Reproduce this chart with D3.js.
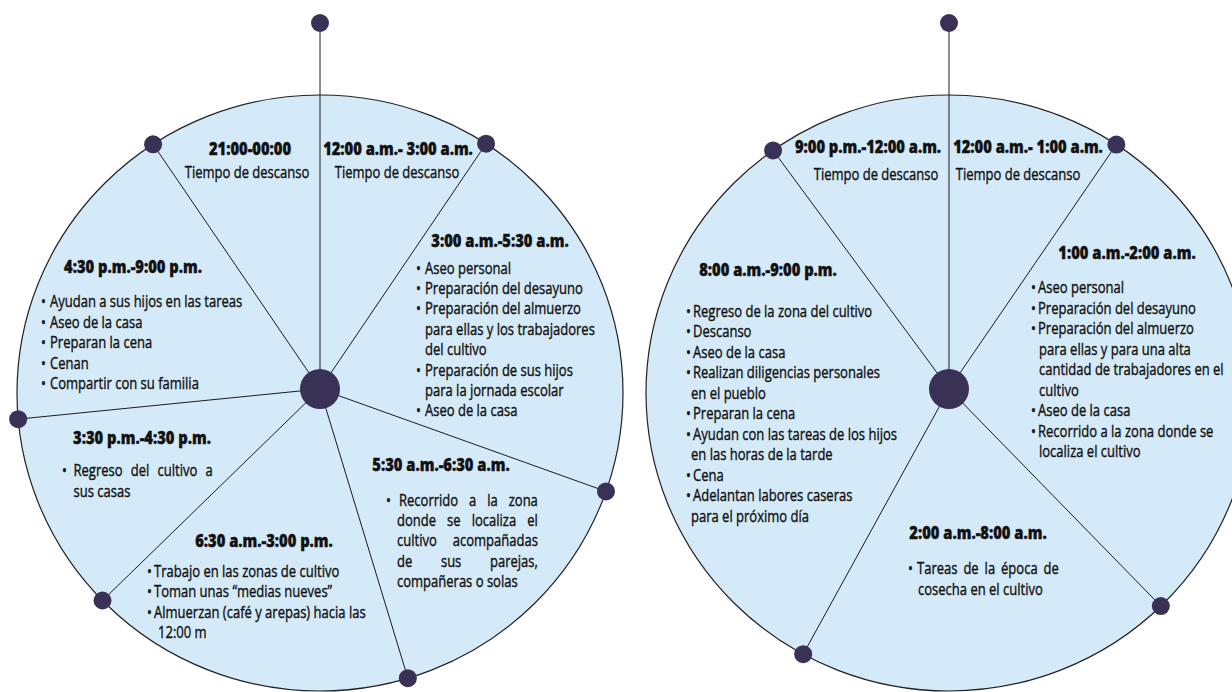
<!DOCTYPE html>
<html><head><meta charset="utf-8">
<script src="https://cdn.jsdelivr.net/npm/d3@7"></script>
<style>body{margin:0;background:#fff}svg{display:block}</style>
</head><body>
<script>
// ---------- data ----------
// segment boundaries of each day-cycle (degrees, clockwise from top)
const leftBoundaries = [0, 34.1, 109.7, 163.1, 225.8, 264.3, 325.7];
const rightBoundaries = [0, 34.4, 135.7, 208.8, 323.6];

const leftTitles = ["21:00-00:00", "12:00 a.m.- 3:00 a.m.", "3:00 a.m.-5:30 a.m.", "5:30 a.m.-6:30 a.m.",
  "6:30 a.m.-3:00 p.m.", "3:30 p.m.-4:30 p.m.", "4:30 p.m.-9:00 p.m."];
const leftTexts = [
  ["Tiempo de descanso"],
  ["Tiempo de descanso"],
  ["• Aseo personal", "• Preparación del desayuno", "• Preparación del almuerzo", "para ellas y los trabajadores",
   "del cultivo", "• Preparación de sus hijos", "para la jornada escolar", "• Aseo de la casa"],
  ["• Recorrido a la zona", "donde se localiza el", "cultivo acompañadas", "de sus parejas,", "compañeras o solas"],
  ["• Trabajo en las zonas de cultivo", "• Toman unas “medias nueves”", "• Almuerzan (café y arepas) hacia las", "12:00 m"],
  ["• Regreso del cultivo a", "sus casas"],
  ["• Ayudan a sus hijos en las tareas", "• Aseo de la casa", "• Preparan la cena", "• Cenan", "• Compartir con su familia"]
];

const rightTitles = ["9:00 p.m.-12:00 a.m.", "12:00 a.m.- 1:00 a.m.", "1:00 a.m.-2:00 a.m.", "2:00 a.m.-8:00 a.m.", "8:00 a.m.-9:00 p.m."];
const rightTexts = [
  ["Tiempo de descanso"],
  ["Tiempo de descanso"],
  ["• Aseo personal", "• Preparación del desayuno", "• Preparación del almuerzo", "para ellas y para una alta",
   "cantidad de trabajadores en el", "cultivo", "• Aseo de la casa", "• Recorrido a la zona donde se", "localiza el cultivo"],
  ["• Tareas de la época de", "cosecha en el cultivo"],
  ["• Regreso de la zona del cultivo", "• Descanso", "• Aseo de la casa", "• Realizan diligencias personales",
   "en el pueblo", "• Preparan la cena", "• Ayudan con las tareas de los hijos", "en las horas de la tarde",
   "• Cena", "• Adelantan labores caseras", "para el próximo día"]
];

// ---------- layout ----------
const leftLayout = [
  {tx: 250, ty: 155, align: "middle", x: 247, y: 178},
  {tx: 398, ty: 155, align: "middle", x: 397, y: 178},
  {tx: 500, ty: 247, bx: 416, x: 425, cx: 425, y: 273.5, lh: 20.4},
  {tx: 441, ty: 471, bx: 386, x: 399, cx: 397, y: 505.5, lh: 20.4, right: 538},
  {tx: 264, ty: 547, bx: 147, x: 154, cx: 158, y: 577, lh: 20.4},
  {tx: 142, ty: 444, bx: 62, x: 73.5, cx: 73.5, y: 476, lh: 20.5, right: 213},
  {tx: 133, ty: 273, bx: 41, x: 50, cx: 50, y: 307.3, lh: 20.4}
];
const rightLayout = [
  {tx: 868, ty: 153, align: "middle", x: 876, y: 180},
  {tx: 1028, ty: 153, align: "middle", x: 1018, y: 180},
  {tx: 1127, ty: 259, bx: 1031, x: 1038, cx: 1039, y: 293, lh: 20.55},
  {tx: 978, ty: 539, bx: 908, x: 917, cx: 918, y: 574, lh: 20.5, right: 1059},
  {tx: 768, ty: 276, bx: 686, x: 693, cx: 691, y: 317, lh: 20.45}
];

const W = 1232, H = 692;
const FILL = "#d4eaf9", DOT = "#3a3156", INK = "#111";
const FONT = "'Open Sans', 'Noto Sans', sans-serif", FS = 17;
const RX = 303, RY = 298, ELL_DY = 4, HUB_Y = 389, TOPDOT_Y = 23;

const svg = d3.select("body").append("svg").attr("width", W).attr("height", H)
  .attr("font-family", FONT).attr("font-size", FS).attr("fill", INK);

const angle = d3.scaleLinear().domain([0, 360]).range([0, 2 * Math.PI]);

function measure(text, weight) {
  const t = svg.append("text").attr("font-weight", weight).text(text);
  const w = t.node().getComputedTextLength();
  t.remove();
  return w;
}
const sxR = 158 / measure("Preparación del desayuno", 400);
const sxB = 138 / measure("4:30 p.m.-9:00 p.m.", 800);

// intersection of a ray from the hub with the ellipse
function rim(cx, deg) {
  const a = angle(deg), s = Math.sin(a), c = Math.cos(a);
  const d0 = -ELL_DY; // hub y minus ellipse centre y
  const A = (s * s) / (RX * RX) + (c * c) / (RY * RY);
  const B = -2 * d0 * c / (RY * RY);
  const C = (d0 * d0) / (RY * RY) - 1;
  const t = (-B + Math.sqrt(B * B - 4 * A * C)) / (2 * A);
  return [cx + t * s, HUB_Y - t * c];
}

function drawClock(cx, boundaries, titles, texts, layout) {
  const g = svg.append("g");
  g.append("ellipse").attr("cx", cx).attr("cy", HUB_Y + ELL_DY).attr("rx", RX).attr("ry", RY)
    .attr("fill", FILL).attr("stroke", "#222").attr("stroke-width", 1.2);

  const pts = boundaries.map(d => d === 0 ? [cx, TOPDOT_Y] : rim(cx, d));
  g.selectAll("line.spoke").data(pts).join("line").attr("class", "spoke")
    .attr("x1", cx).attr("y1", HUB_Y).attr("x2", d => d[0]).attr("y2", d => d[1])
    .attr("stroke", "#1a1a1a").attr("stroke-width", 1);
  g.selectAll("circle.end").data(pts).join("circle").attr("class", "end")
    .attr("cx", d => d[0]).attr("cy", d => d[1]).attr("r", 9).attr("fill", DOT);
  g.append("circle").attr("cx", cx).attr("cy", HUB_Y).attr("r", 20).attr("fill", DOT);

  const tg = g.append("g").attr("stroke", INK).attr("stroke-width", 0.4);
  const put = (x, y, s, txt, extra) => {
    const t = tg.append("text").attr("transform", `translate(${x},${y}) scale(${s},1)`).text(txt);
    if (extra) extra(t);
    return t;
  };
  titles.forEach((title, i) => {
    const L = layout[i];
    put(L.tx, L.ty, sxB, title, t => t.attr("text-anchor", "middle").attr("font-weight", 800));
    texts[i].forEach((ln, k) => {
      const y = L.y + k * (L.lh || 0);
      if (L.align === "middle") {
        put(L.x, y, sxR, ln, t => t.attr("text-anchor", "middle"));
        return;
      }
      const isBullet = ln.startsWith("• ");
      const txt = isBullet ? ln.slice(2) : ln;
      if (isBullet) put(L.bx, y, sxR, "•");
      const x = isBullet ? L.x : L.cx;
      const justify = L.right && k < texts[i].length - 1 && txt.includes(" ");
      const t = put(x, y, sxR, txt);
      if (justify) {
        const nSp = txt.split(" ").length - 1;
        const extra = ((L.right - x) / sxR - measure(txt, 400)) / nSp;
        t.style("word-spacing", extra + "px");
      }
    });
  });
}

drawClock(320, leftBoundaries, leftTitles, leftTexts, leftLayout);
drawClock(949, rightBoundaries, rightTitles, rightTexts, rightLayout);
</script>
</body></html>
